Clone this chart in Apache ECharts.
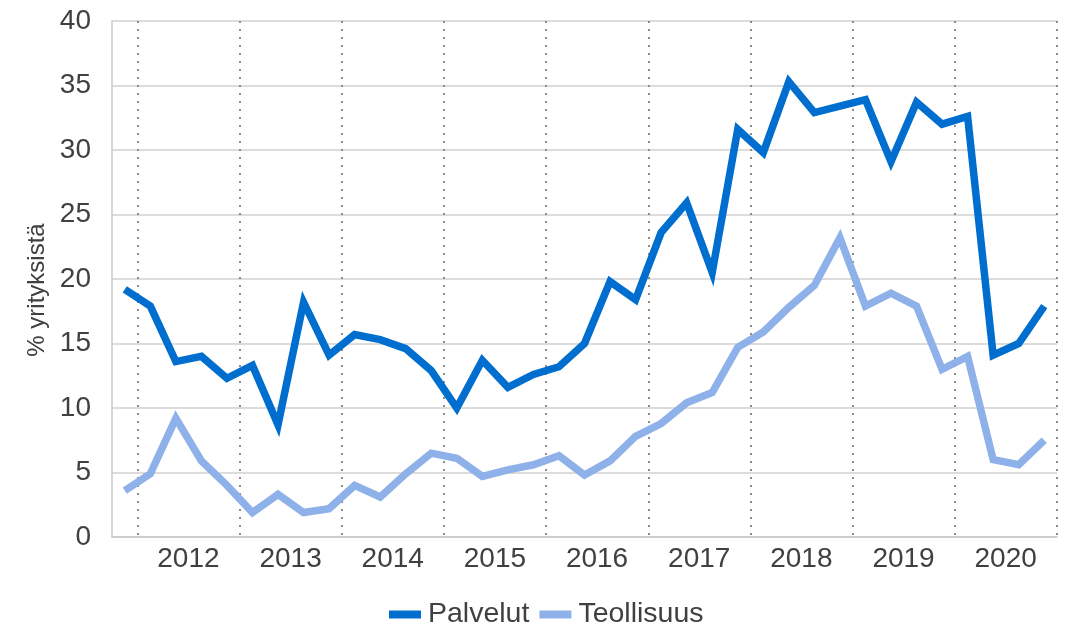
<!DOCTYPE html>
<html>
<head>
<meta charset="utf-8">
<script src="https://cdn.jsdelivr.net/npm/echarts@6/dist/echarts.min.js"></script>
<style>
  html, body { margin: 0; padding: 0; background: #fff; }
  #chart { width: 1074px; height: 626px; }
</style>
</head>
<body>
<div id="chart"></div>
<script>
const quarters = [
  '2011Q4',
  '2012Q1', '2012Q2', '2012Q3', '2012Q4',
  '2013Q1', '2013Q2', '2013Q3', '2013Q4',
  '2014Q1', '2014Q2', '2014Q3', '2014Q4',
  '2015Q1', '2015Q2', '2015Q3', '2015Q4',
  '2016Q1', '2016Q2', '2016Q3', '2016Q4',
  '2017Q1', '2017Q2', '2017Q3', '2017Q4',
  '2018Q1', '2018Q2', '2018Q3', '2018Q4',
  '2019Q1', '2019Q2', '2019Q3', '2019Q4',
  '2020Q1', '2020Q2', '2020Q3', '2020Q4',
];

const palvelut = [
  19.2, 17.9, 13.6, 14.0, 12.3, 13.3, 8.7, 18.2, 14.1,
  15.7, 15.3, 14.6, 12.9, 10.0, 13.7, 11.6, 12.6,
  13.2, 15.0, 19.8, 18.4, 23.6, 25.9, 20.5, 31.6,
  29.8, 35.3, 32.9, 33.4, 33.9, 29.1, 33.7, 32.0,
  32.6, 14.1, 15.0, 17.9,
];

const teollisuus = [
  3.6, 4.9, 9.2, 5.9, 4.0, 1.9, 3.3, 1.9, 2.2,
  4.0, 3.1, 4.9, 6.5, 6.1, 4.7, 5.2, 5.6,
  6.3, 4.8, 5.9, 7.8, 8.8, 10.4, 11.2, 14.7,
  15.9, 17.8, 19.5, 23.2, 17.9, 18.9, 17.9, 13.0,
  14.0, 6.0, 5.6, 7.5,
];

const yTicks = { min: 0, max: 40, interval: 5 };

const FONT = '"Liberation Sans", Arial, sans-serif';
const TEXT = '#404040';

// year boundary = first quarter of each year; label sits mid-year (between Q2 and Q3)
const isYearStart = (index) => index % 4 === 1;
const isMidYear = (index) => index % 4 === 3;

const chart = echarts.init(document.getElementById('chart'));

chart.setOption({
  animation: false,
  backgroundColor: '#fff',
  textStyle: { fontFamily: FONT, color: TEXT },
  grid: { left: 112, right: 17, top: 21, bottom: 89 },
  legend: {
    left: 384,
    top: 595,
    icon: 'rect',
    itemWidth: 32,
    itemHeight: 8,
    itemGap: 10,
    textStyle: { fontFamily: FONT, fontSize: 28.5, color: TEXT, padding: [0, 0, 0, 2] },
    data: ['Palvelut', 'Teollisuus'],
  },
  xAxis: {
    type: 'category',
    data: quarters,
    boundaryGap: true,
    axisLine: { lineStyle: { color: '#c8c8c8', width: 1.5 } },
    axisTick: {
      interval: isYearStart,
      inside: true,
      length: 9,
      lineStyle: { color: '#555', width: 1.5 },
    },
    splitLine: {
      show: true,
      interval: isYearStart,
      lineStyle: { color: '#8c8c8c', width: 2, type: [2, 6] },
    },
    axisLabel: {
      interval: isMidYear,
      formatter: (value) => value.slice(0, 4),
      fontFamily: FONT,
      fontSize: 28,
      color: TEXT,
      margin: 8,
      padding: [0, 26, 0, 0],
    },
  },
  yAxis: {
    type: 'value',
    min: yTicks.min,
    max: yTicks.max,
    interval: yTicks.interval,
    name: '% yrityksistä',
    nameLocation: 'middle',
    nameGap: 59,
    nameTextStyle: { fontFamily: FONT, fontSize: 24, color: TEXT, padding: [0, 22, 0, 0] },
    axisLine: { show: true, lineStyle: { color: '#c8c8c8', width: 1.5 } },
    axisTick: { show: false },
    axisLabel: { fontFamily: FONT, fontSize: 28, color: TEXT, margin: 21 },
    splitLine: { lineStyle: { color: '#d0d0d0', width: 1.5 } },
  },
  series: [
    {
      name: 'Palvelut',
      type: 'line',
      data: palvelut,
      showSymbol: false,
      symbol: 'none',
      color: '#006ecf',
      lineStyle: { width: 7.5, join: 'miter', cap: 'butt' },
      z: 3,
    },
    {
      name: 'Teollisuus',
      type: 'line',
      data: teollisuus,
      showSymbol: false,
      symbol: 'none',
      color: '#8eb1e9',
      lineStyle: { width: 7.5, join: 'miter', cap: 'butt' },
      z: 2,
    },
  ],
});
</script>
</body>
</html>
